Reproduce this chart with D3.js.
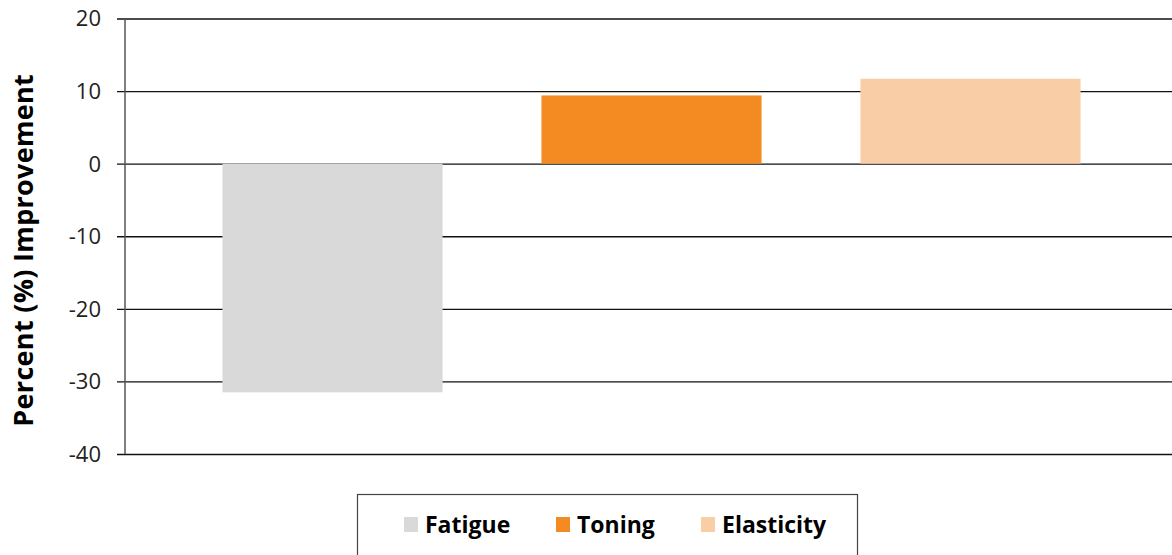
<!DOCTYPE html>
<html>
<head>
<meta charset="utf-8">
<script src="https://cdn.jsdelivr.net/npm/d3@7"></script>
<style>
  body { margin: 0; background: #fff; }
  #chart { width: 1172px; height: 555px; }
  text { font-family: "Open Sans", "DejaVu Sans", sans-serif; }
</style>
</head>
<body>
<div id="chart"></div>
<script>
// Data
const categories = ["Fatigue", "Toning", "Elasticity"];
const values = [-31.5, 9.4, 11.7];
const colors = ["#d9d9d9", "#f48a22", "#f9cda6"];
const yTicks = [20, 10, 0, -10, -20, -30, -40];

function renderChart() {
    d3.select("#chart svg").remove();

    const W = 1172, H = 555;
    const svg = d3.select("#chart").append("svg")
        .attr("width", W)
        .attr("height", H);

    // scales
    const y = d3.scaleLinear()
        .domain([-40, 20])
        .range([454, 18.5]);

    const x = d3.scaleBand()
        .domain(categories)
        .range([173, 1130])
        .paddingInner(0.31)
        .paddingOuter(0.155);

    const axisX = 125;

    // gridlines (with tick stubs to the left of the axis)
    svg.append("g")
        .attr("transform", `translate(${axisX},0)`)
        .call(d3.axisLeft(y).tickValues(yTicks).tickSize(-(W - axisX)).tickSizeOuter(0).tickFormat(""))
        .call(g => g.select(".domain").remove())
        .call(g => g.selectAll(".tick line")
            .attr("x1", -8)
            .attr("stroke", "#111")
            .attr("stroke-width", 1.4));

    // bars
    svg.append("g").selectAll("rect")
        .data(categories)
        .join("rect")
        .attr("x", d => x(d))
        .attr("width", x.bandwidth())
        .attr("y", (d, i) => y(Math.max(0, values[i])))
        .attr("height", (d, i) => Math.abs(y(values[i]) - y(0)))
        .attr("fill", (d, i) => colors[i]);

    // y axis line
    svg.append("line")
        .attr("x1", axisX).attr("x2", axisX)
        .attr("y1", y(20)).attr("y2", y(-40))
        .attr("stroke", "#555")
        .attr("stroke-width", 1.5);

    // tick labels
    svg.append("g").selectAll("text")
        .data(yTicks)
        .join("text")
        .attr("x", 101)
        .attr("y", d => y(d))
        .attr("dy", "0.36em")
        .attr("text-anchor", "end")
        .attr("fill", "#222")
        .style("font-size", "22px")
        .text(d => d);

    // y axis title
    svg.append("text")
        .attr("transform", `translate(33,${(y(20) + y(-40)) / 2 + 14}) rotate(-90)`)
        .attr("text-anchor", "middle")
        .style("font-size", "27px")
        .style("letter-spacing", "0.3px")
        .style("font-weight", "bold")
        .attr("fill", "#000")
        .text("Percent (%) Improvement");

    // legend
    const legend = svg.append("g");
    legend.append("rect")
        .attr("x", 357.5).attr("y", 494.5)
        .attr("width", 500).attr("height", 80)
        .attr("fill", "#fff")
        .attr("stroke", "#444")
        .attr("stroke-width", 1.2);

    const legendX = [404, 556, 701];
    categories.forEach((c, i) => {
        legend.append("rect")
            .attr("x", legendX[i]).attr("y", 517)
            .attr("width", 14).attr("height", 15)
            .attr("fill", colors[i]);
        legend.append("text")
            .attr("x", legendX[i] + 21)
            .attr("y", 533)
            .style("font-size", "23px")
            .style("font-weight", "bold")
            .attr("fill", "#000")
            .text(c);
    });
}

renderChart();
</script>
</body>
</html>
